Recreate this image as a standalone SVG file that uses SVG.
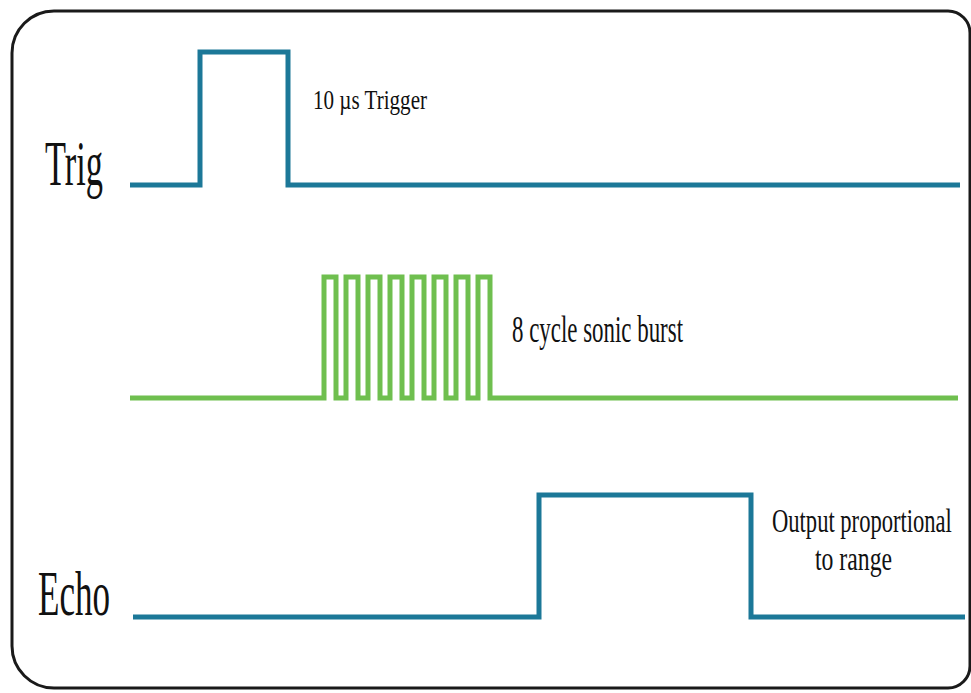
<svg xmlns="http://www.w3.org/2000/svg" width="971" height="693" viewBox="0 0 971 693">
<style>
.frame{fill:#fff;stroke:#1a1a1a;stroke-width:3}
.sig{fill:none;stroke-width:5;stroke-linejoin:miter;stroke-linecap:butt}
.blue{stroke:#1c7898}
.green{stroke:#6fbf4f}
text{font-family:"Liberation Serif","Times New Roman",serif;fill:#111}
</style>
<rect width="971" height="693" fill="#fff"/>
<path class="frame" d="M 54 11 H 948 A 22 22 0 0 1 970 33 V 666 A 22 22 0 0 1 948 688 H 54 A 42 42 0 0 1 12 646 V 53 A 42 42 0 0 1 54 11 Z"/>
<g id="connectors">
<path id="trig-wave" class="sig blue" d="M 130 185 H 200 V 52 H 288 V 185 H 960"/>
<path id="burst-wave" class="sig green" d="M 130 398 H 324 V 277 H 336 V 398 H 346 V 277 H 358 V 398 H 368 V 277 H 380 V 398 H 390 V 277 H 402 V 398 H 412 V 277 H 424 V 398 H 434 V 277 H 446 V 398 H 456 V 277 H 468 V 398 H 478 V 277 H 490 V 398 H 958"/>
<path id="echo-wave" class="sig blue" d="M 133 617 H 539 V 495 H 751 V 617 H 965"/>
</g>
<g id="trig-label"><text x="45" y="185" font-size="64" textLength="58" lengthAdjust="spacingAndGlyphs">Trig</text></g>
<g id="echo-label"><text x="38" y="615" font-size="63" textLength="72" lengthAdjust="spacingAndGlyphs">Echo</text></g>
<g id="trigger-note"><text x="313" y="109" font-size="28" textLength="114" lengthAdjust="spacingAndGlyphs">10 µs Trigger</text></g>
<g id="burst-note"><text x="512" y="342" font-size="37" textLength="171" lengthAdjust="spacingAndGlyphs">8 cycle sonic burst</text></g>
<g id="echo-note">
<text transform="translate(772 532) scale(0.684 1)" font-size="33">Output proportional</text>
<text x="815" y="570" font-size="33" textLength="77" lengthAdjust="spacingAndGlyphs">to range</text>
</g>
</svg>
